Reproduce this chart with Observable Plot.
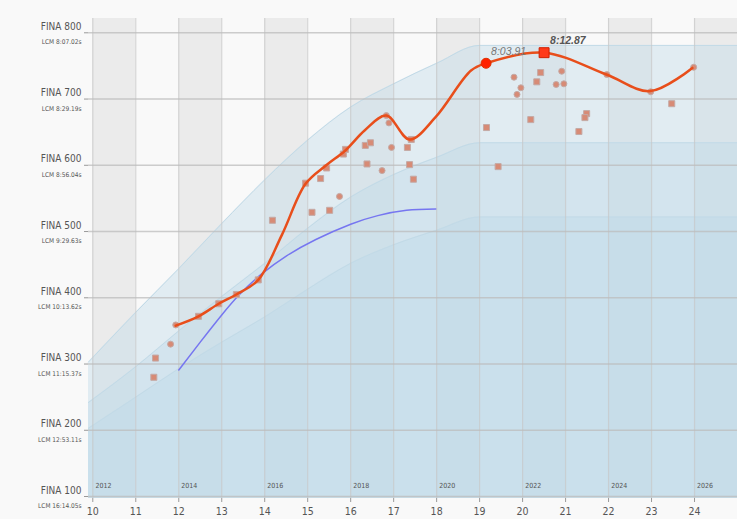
<!DOCTYPE html>
<html><head><meta charset="utf-8">
<script src="https://cdn.jsdelivr.net/npm/d3@7"></script>
<script src="https://cdn.jsdelivr.net/npm/@observablehq/plot@0.6"></script>
<style>
html,body{margin:0;padding:0;background:#f9f9f9;}
</style></head><body><div id="chart"></div>
<script>
// Axis ticks
const finaTicks = [100, 200, 300, 400, 500, 600, 700, 800];
const lcmLabels = ["LCM 16:14.05s", "LCM 12:53.11s", "LCM 11:15.37s", "LCM 10:13.62s", "LCM 9:29.63s", "LCM 8:56.04s", "LCM 8:29.19s", "LCM 8:07.02s"];
const ageTicks = [10, 11, 12, 13, 14, 15, 16, 17, 18, 19, 20, 21, 22, 23, 24];
const yearAges = [10, 12, 14, 16, 18, 20, 22, 24];
const yearLabels = ["2012", "2014", "2016", "2018", "2020", "2022", "2024", "2026"];

// Percentile bands
const bandAges = [9.9, 11, 12, 13, 14, 15, 16, 17, 18, 19, 25];
const bandOuter = [303, 378, 444, 512, 578, 638, 688, 723, 754, 781, 781];
const bandMiddle = [242, 296, 350, 402, 452, 505, 552, 586, 612, 634, 634];
const bandInner = [203, 250, 293, 333, 371, 413, 452, 480, 502, 522, 522];

// Blue reference curve
const blueAges = [12.0, 12.5, 13.0, 13.43, 13.93, 14.5, 15.19, 16.0, 16.63, 17.3, 17.98];
const bluePts = [291, 333, 374, 406, 436, 463, 488, 511, 524, 532, 534];

// Orange progression curve
const orangeAges = [11.93, 12.46, 12.93, 13.34, 13.85, 14.4, 14.95, 15.43, 15.87, 16.33, 16.83, 17.37, 17.98, 18.8, 19.15, 20.5, 21.95, 22.97, 23.95];
const orangePts = [358, 372, 391, 405, 427, 495, 572, 600, 622, 653, 675, 639, 673, 743, 754, 770, 737, 712, 747];

// Swims (squares)
const sqAges = [11.42, 11.46, 12.46, 12.93, 13.34, 13.85, 14.18, 14.95, 15.10, 15.51, 15.30, 15.44, 15.83, 15.88, 16.34, 16.46, 16.38, 17.32, 17.37, 17.41, 17.46, 19.16, 19.43, 20.42, 20.33, 20.19, 21.49, 21.45, 21.31, 23.47];
const sqPts = [280, 309, 372, 391, 405, 427, 517, 573, 529, 532, 580, 596, 617, 624, 630, 634, 602, 627, 601, 639, 579, 657, 598, 740, 726, 669, 678, 672, 651, 693];
// Swims (circles)
const ciAges = [11.81, 11.93, 15.74, 16.73, 16.83, 16.89, 16.95, 19.80, 19.96, 19.87, 20.91, 20.78, 20.96, 21.96, 22.98, 23.98];
const ciPts = [330, 359, 553, 592, 675, 664, 627, 733, 717, 707, 742, 722, 723, 737, 711, 748];

// Highlights
const hlCircleAge = [19.15], hlCirclePts = [754], hlCircleLabel = ["8:03.91"];
const hlSquareAge = [20.5], hlSquarePts = [770], hlSquareLabel = ["8:12.87"];

const bands = bandAges.map((a, i) => ({age: a, outer: bandOuter[i], middle: bandMiddle[i], inner: bandInner[i]}));
const blue = blueAges.map((a, i) => ({age: a, v: bluePts[i]}));
const orange = orangeAges.map((a, i) => ({age: a, v: orangePts[i]}));
const squares = sqAges.map((a, i) => ({age: a, v: sqPts[i]}));
const circles = ciAges.map((a, i) => ({age: a, v: ciPts[i]}));
const hlC = hlCircleAge.map((a, i) => ({age: a, v: hlCirclePts[i], label: hlCircleLabel[i]}));
const hlS = hlSquareAge.map((a, i) => ({age: a, v: hlSquarePts[i], label: hlSquareLabel[i]}));
const years = yearAges.map((a, i) => ({age: a, label: yearLabels[i]}));

const Y0 = 97, Y1 = 821.6;
const font = "'DejaVu Sans Condensed', 'Liberation Sans', sans-serif";
const bandFill = "rgb(190,217,232)";

const chart = Plot.plot({
  width: 737, height: 519,
  marginLeft: 88, marginRight: 0, marginTop: 18, marginBottom: 21,
  style: {background: "#f9f9f9", fontFamily: font, color: "#555"},
  x: {domain: [9.9, 25], label: null},
  y: {domain: [Y0, Y1], label: null},
  marks: [
    Plot.rect(years, {x1: "age", x2: d => d.age + 1, y1: Y0, y2: Y1, fill: "#ebebeb"}),
    Plot.areaY(bands, {x: "age", y1: Y0, y2: "outer", fill: bandFill, fillOpacity: 0.4, curve: "monotone-x"}),
    Plot.areaY(bands, {x: "age", y1: Y0, y2: "middle", fill: bandFill, fillOpacity: 0.4, curve: "monotone-x"}),
    Plot.areaY(bands, {x: "age", y1: Y0, y2: "inner", fill: bandFill, fillOpacity: 0.4, curve: "monotone-x"}),
    Plot.lineY(bands, {x: "age", y: "outer", stroke: "#c2dae7", strokeWidth: 1, curve: "monotone-x"}),
    Plot.lineY(bands, {x: "age", y: "middle", stroke: "#c2dae7", strokeWidth: 1, curve: "monotone-x"}),
    Plot.lineY(bands, {x: "age", y: "inner", stroke: "#c2dae7", strokeWidth: 1, curve: "monotone-x"}),
    Plot.ruleX(ageTicks, {stroke: "#c8c8c8", strokeWidth: 1.2, strokeOpacity: 0.7}),
    Plot.ruleY(finaTicks, {stroke: "#bcbcbc", strokeWidth: 1.5, strokeOpacity: 0.75}),
    Plot.text(years, {x: d => d.age + 0.06, text: "label", frameAnchor: "bottom", dy: -11, textAnchor: "start", fontSize: 7, fill: "#555"}),
    Plot.line(blue, {x: "age", y: "v", stroke: "#7676f0", strokeWidth: 1.5, curve: "natural"}),
    Plot.dot(squares, {x: "age", y: "v", symbol: "square", r: 3.4, fill: "#d78b76", stroke: "#c4aaa6", strokeWidth: 1}),
    Plot.dot(circles, {x: "age", y: "v", r: 3, fill: "#d78b76", stroke: "#c4aaa6", strokeWidth: 1}),
    Plot.line(orange, {x: "age", y: "v", stroke: "#e84e1b", strokeWidth: 2.5, curve: "catmull-rom"}),
    Plot.dot(hlC, {x: "age", y: "v", r: 5, fill: "#ff2200", stroke: "#e03000", strokeWidth: 1}),
    Plot.dot(hlS, {x: "age", y: "v", symbol: "square", r: 5.6, fill: "#ff3a1a", stroke: "#d02000", strokeWidth: 1}),
    Plot.text(hlC, {x: "age", y: "v", text: "label", dx: 5, dy: -12, textAnchor: "start", fontSize: 10.5, fontStyle: "italic", fill: "#777", fontFamily: "'Liberation Sans', sans-serif"}),
    Plot.text(hlS, {x: "age", y: "v", text: "label", dx: 6, dy: -12, textAnchor: "start", fontSize: 10.5, fontStyle: "italic", fontWeight: "bold", fill: "#555", fontFamily: "'Liberation Sans', sans-serif"}),
    Plot.axisY({ticks: finaTicks, tickSize: 4, stroke: "#999", tickFormat: () => "", label: null}),
    Plot.axisY({ticks: finaTicks, tickSize: 0, tickPadding: 7, dy: -6, fontSize: 10, fill: "#555", tickFormat: d => "FINA " + d, label: null}),
    Plot.axisY({ticks: finaTicks, tickSize: 0, tickPadding: 7, dy: 9.5, fontSize: 6.5, fill: "#555", tickFormat: d => lcmLabels[finaTicks.indexOf(d)], label: null}),
    Plot.axisX({ticks: ageTicks, tickSize: 4, tickPadding: 5, stroke: "#999", fontSize: 10.5, fill: "#555", tickFormat: d => String(d), label: null})
  ]
});
document.getElementById("chart").appendChild(chart);
</script>
</body></html>
